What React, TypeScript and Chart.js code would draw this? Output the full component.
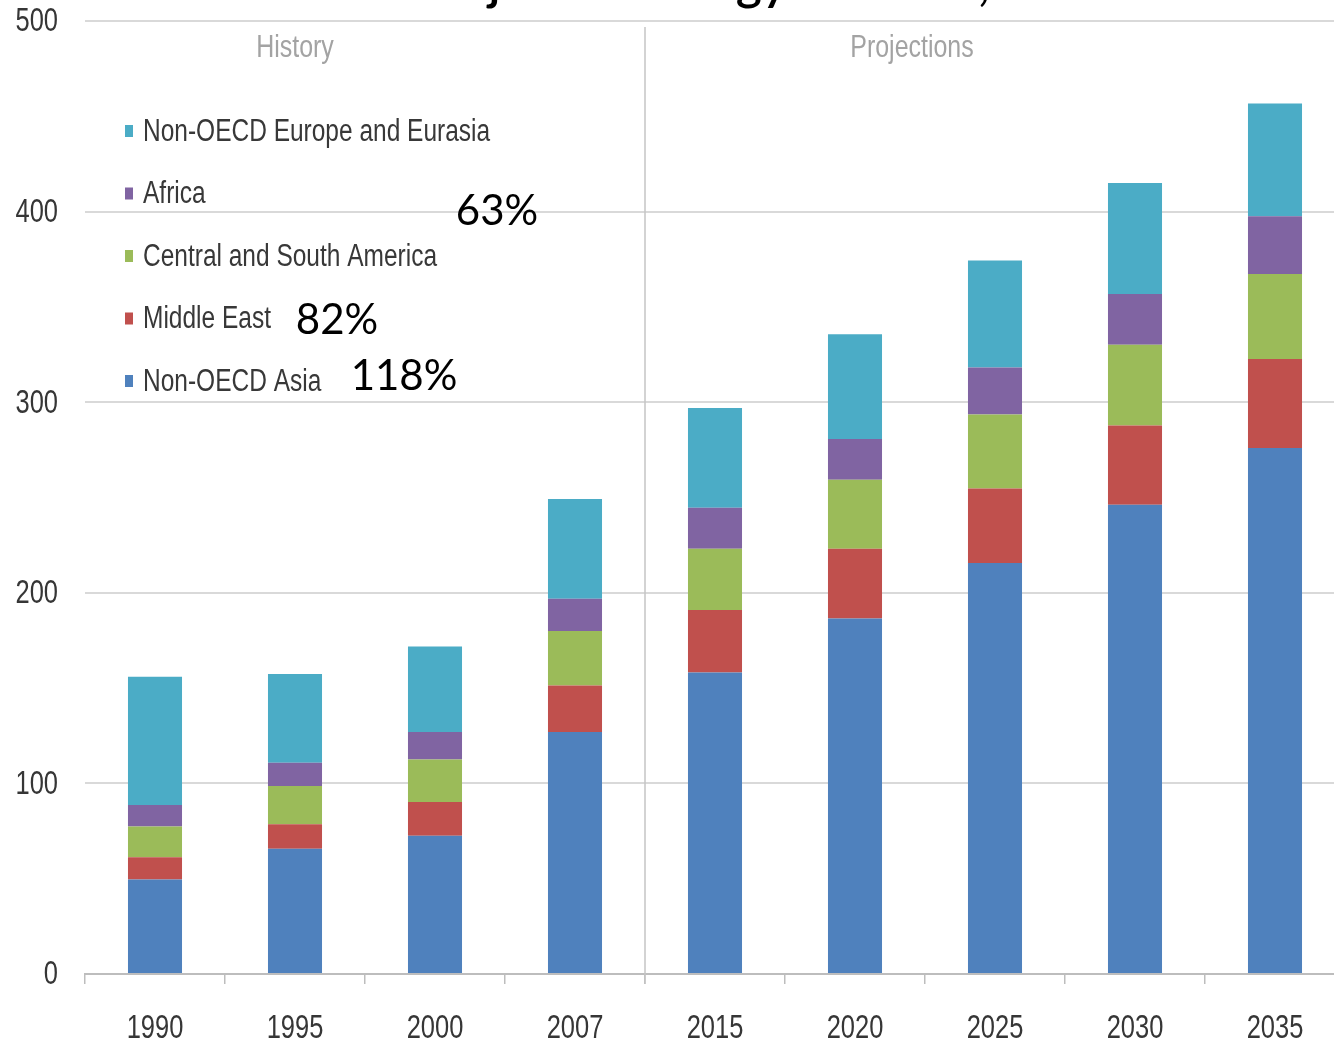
import React, { useEffect, useRef } from 'react';
import { Chart, registerables } from 'chart.js';

Chart.register(...registerables);

const years = ['1990', '1995', '2000', '2007', '2015', '2020', '2025', '2030', '2035'];
const nonOecdAsia = [49.6, 65.7, 72.5, 127, 158.2, 186.5, 215.7, 246.2, 276];
const middleEast = [11.6, 12.9, 17.8, 24.3, 32.8, 36.6, 39, 41.6, 46.6];
const centralSouthAmerica = [16.2, 20, 22.2, 28.7, 32.1, 36.2, 38.8, 42.4, 44.6];
const africa = [11.3, 12.2, 14.5, 16.9, 21.5, 21.4, 24.7, 26.6, 30.4];
const nonOecdEurope = [67.3, 46.6, 44.8, 52.3, 52.3, 55, 56.1, 58.2, 59.1];
const yTicks = [0, 100, 200, 300, 400, 500];

const seriesLabels = ['Non-OECD Asia', 'Middle East', 'Central and South America', 'Africa', 'Non-OECD Europe and Eurasia'];
const seriesColors = ['#4F81BD', '#C0504D', '#9BBB59', '#8064A2', '#4BACC6'];
const periodLabels = ['History', 'Projections'];
const growthNotes = [
  { text: '63%', x: 497, y: 211 },
  { text: '82%', x: 337, y: 320 },
  { text: '118%', x: 404, y: 376 },
];
const titleText = 'Projected energy demand, 2035';

const ARIAL = "'Liberation Sans', Arial, sans-serif";
const HUMAN = "Lato, 'Open Sans', 'Noto Sans', sans-serif";

function drawNarrow(
  ctx: CanvasRenderingContext2D,
  text: string,
  x: number,
  y: number,
  size: number,
  align: CanvasTextAlign,
  color: string,
  sx = 0.82,
) {
  ctx.save();
  ctx.translate(x, y);
  ctx.scale(sx, 1);
  ctx.font = `${size}px ${ARIAL}`;
  ctx.textAlign = align;
  ctx.textBaseline = 'middle';
  ctx.fillStyle = color;
  ctx.fillText(text, 0, 0);
  ctx.restore();
}

export default function App() {
  const ref = useRef<HTMLCanvasElement>(null);

  useEffect(() => {
    document.body.style.margin = '0';
    document.body.style.overflow = 'hidden';
    const canvas = ref.current;
    if (!canvas) return;

    const overlay = {
      id: 'overlay',
      afterDraw(chart: any) {
        const ctx = chart.ctx as CanvasRenderingContext2D;
        const area = chart.chartArea;
        const xs = chart.scales.x;
        const ys = chart.scales.y;
        ctx.save();

        // axis tick labels, positioned by the library's scales
        ys.ticks.forEach((t: any, i: number) => {
          drawNarrow(ctx, String(t.label ?? t.value), area.left - 27, ys.getPixelForTick(i) + 1, 34, 'right', '#363636', 0.75);
        });
        xs.ticks.forEach((t: any, i: number) => {
          drawNarrow(ctx, String(xs.getLabelForValue(t.value)), xs.getPixelForTick(i), area.bottom + 55, 34, 'center', '#363636', 0.75);
        });

        // divider between history and projections
        const divX = (xs.getPixelForValue(3) + xs.getPixelForValue(4)) / 2;
        ctx.strokeStyle = '#c4c4c4';
        ctx.lineWidth = 1.5;
        ctx.beginPath();
        ctx.moveTo(divX, area.top + 6);
        ctx.lineTo(divX, area.bottom + 10);
        ctx.stroke();

        // period labels
        drawNarrow(ctx, periodLabels[0], xs.getPixelForValue(1), area.top + 27, 32, 'center', '#a3a3a3', 0.78);
        drawNarrow(ctx, periodLabels[1], (xs.getPixelForValue(5) + xs.getPixelForValue(6)) / 2 - 13, area.top + 27, 32, 'center', '#a3a3a3', 0.78);

        // legend (reverse order)
        const ds = chart.data.datasets;
        for (let i = 0; i < ds.length; i++) {
          const d = ds[ds.length - 1 - i];
          const cy = 131 + i * 62.5;
          ctx.fillStyle = d.backgroundColor;
          ctx.fillRect(125, cy - 6, 8, 12);
          drawNarrow(ctx, d.label, 143, cy + 1, 31, 'left', '#383838', 0.79);
        }

        // growth notes
        ctx.fillStyle = '#000';
        ctx.font = `42px ${HUMAN}`;
        ctx.textAlign = 'center';
        ctx.textBaseline = 'middle';
        for (const n of growthNotes) ctx.fillText(n.text, n.x, n.y);

        // title, clipped at the top edge as in the reference
        ctx.font = `600 50px ${HUMAN}`;
        ctx.textAlign = 'left';
        ctx.textBaseline = 'alphabetic';
        ctx.fillText(titleText, 412, 0);

        ctx.restore();
      },
    };

    const datasets = [nonOecdAsia, middleEast, centralSouthAmerica, africa, nonOecdEurope].map((data, i) => ({
      label: seriesLabels[i],
      data,
      backgroundColor: seriesColors[i],
      borderWidth: 0,
      categoryPercentage: 1,
      barPercentage: 0.386,
    }));

    const chart = new Chart(canvas, {
      type: 'bar',
      data: { labels: years, datasets },
      options: {
        responsive: false,
        animation: false,
        layout: { padding: { top: 21, right: 15, left: 0, bottom: 0 } },
        plugins: { legend: { display: false }, tooltip: { enabled: false }, title: { display: false } },
        scales: {
          x: {
            stacked: true,
            grid: { offset: true, drawOnChartArea: false, tickLength: 10, color: '#bdbdbd', lineWidth: 1.5 },
            border: { color: '#bdbdbd', width: 2 },
            ticks: { display: false },
            afterFit: (s: any) => { s.height = 72; },
          },
          y: {
            stacked: true,
            min: 0,
            max: 500,
            afterBuildTicks: (s: any) => { s.ticks = yTicks.map((v) => ({ value: v })); },
            grid: { color: '#d9d9d9', lineWidth: 2, drawTicks: false },
            border: { display: false },
            ticks: { display: false },
            afterFit: (s: any) => { s.width = 85; },
          },
        },
      },
      plugins: [overlay],
    });

    return () => chart.destroy();
  }, []);

  return (
    <div style={{ position: 'relative', width: 1334, height: 1046, overflow: 'hidden', background: '#fff' }}>
      <canvas ref={ref} width={1360} height={1046} style={{ display: 'block', width: 1360, height: 1046 }} />
    </div>
  );
}
